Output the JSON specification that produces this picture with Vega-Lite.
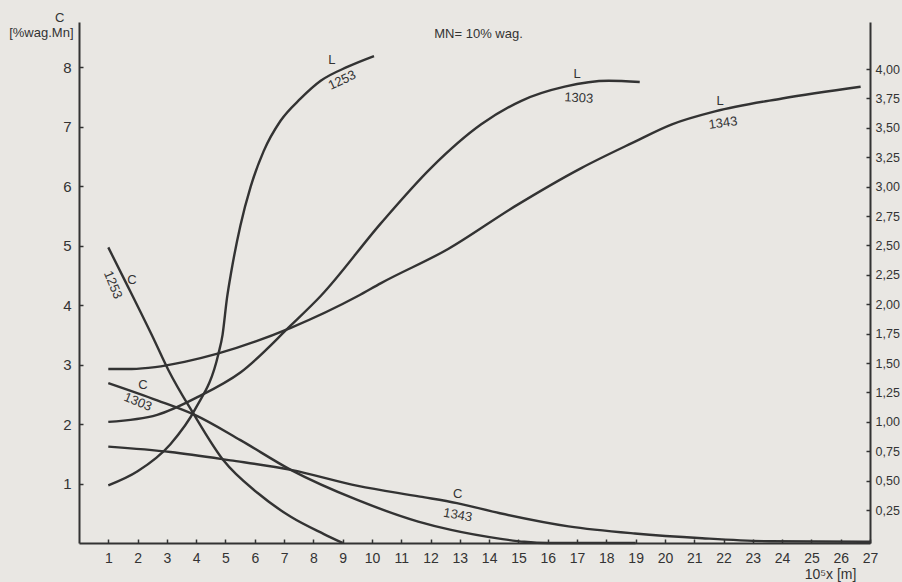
{
  "$schema": "https://vega.github.io/schema/vega-lite/v6.json",
  "width": 791,
  "height": 521,
  "autosize": {"type": "none"},
  "padding": {"left": 79, "top": 22, "right": 32, "bottom": 39},
  "background": "#e9e7e3",
  "config": {
    "view": {"stroke": null},
    "font": "Liberation Sans",
    "axis": {
      "domainColor": "#333333",
      "domainWidth": 2,
      "tickColor": "#333333",
      "tickWidth": 1.5,
      "labelColor": "#333333",
      "titleColor": "#333333",
      "titleFontWeight": "normal",
      "grid": false,
      "labelOverlap": false
    }
  },
  "title": {
    "text": "MN= 10% wag.",
    "anchor": "middle",
    "frame": "group",
    "offset": -40,
    "baseline": "alphabetic",
    "dx": 4,
    "fontSize": 13,
    "fontWeight": "normal",
    "color": "#333333"
  },
  "datasets": {
    "cdata": [
      {"s": "C1253", "x": 1, "c": 4.97}, {"s": "C1253", "x": 1.61, "c": 4.37}, {"s": "C1253", "x": 2.57, "c": 3.41},
      {"s": "C1253", "x": 3.05, "c": 2.91}, {"s": "C1253", "x": 3.9, "c": 2.18}, {"s": "C1253", "x": 4.93, "c": 1.39},
      {"s": "C1253", "x": 6.1, "c": 0.84}, {"s": "C1253", "x": 7.23, "c": 0.44}, {"s": "C1253", "x": 8.36, "c": 0.15},
      {"s": "C1253", "x": 9.0, "c": 0.0},
      {"s": "C1303", "x": 1, "c": 2.69}, {"s": "C1303", "x": 2.67, "c": 2.4}, {"s": "C1303", "x": 3.97, "c": 2.15},
      {"s": "C1303", "x": 5.51, "c": 1.73}, {"s": "C1303", "x": 7.23, "c": 1.23}, {"s": "C1303", "x": 9.52, "c": 0.72},
      {"s": "C1303", "x": 11.58, "c": 0.36}, {"s": "C1303", "x": 12.7, "c": 0.22}, {"s": "C1303", "x": 14.4, "c": 0.07},
      {"s": "C1303", "x": 15.2, "c": 0.02}, {"s": "C1303", "x": 16, "c": 0.0}, {"s": "C1303", "x": 17, "c": 0.0},
      {"s": "C1303", "x": 19, "c": 0.0},
      {"s": "C1343", "x": 1, "c": 1.62}, {"s": "C1343", "x": 3.12, "c": 1.53}, {"s": "C1343", "x": 5.17, "c": 1.39},
      {"s": "C1343", "x": 7.23, "c": 1.23}, {"s": "C1343", "x": 9.52, "c": 0.96}, {"s": "C1343", "x": 11.64, "c": 0.78},
      {"s": "C1343", "x": 12.9, "c": 0.67}, {"s": "C1343", "x": 14.37, "c": 0.5}, {"s": "C1343", "x": 16.71, "c": 0.28},
      {"s": "C1343", "x": 18.97, "c": 0.16}, {"s": "C1343", "x": 21.27, "c": 0.08}, {"s": "C1343", "x": 23.56, "c": 0.03},
      {"s": "C1343", "x": 27, "c": 0.02}
    ],
    "ldata": [
      {"s": "L1253", "x": 1, "l": 0.46}, {"s": "L1253", "x": 2, "l": 0.58}, {"s": "L1253", "x": 3.12, "l": 0.81},
      {"s": "L1253", "x": 3.97, "l": 1.11}, {"s": "L1253", "x": 4.76, "l": 1.58}, {"s": "L1253", "x": 4.9, "l": 1.74},
      {"s": "L1253", "x": 5.05, "l": 2.05}, {"s": "L1253", "x": 5.2, "l": 2.28}, {"s": "L1253", "x": 5.51, "l": 2.67},
      {"s": "L1253", "x": 5.86, "l": 3.0}, {"s": "L1253", "x": 6.3, "l": 3.3}, {"s": "L1253", "x": 6.88, "l": 3.56},
      {"s": "L1253", "x": 7.57, "l": 3.75}, {"s": "L1253", "x": 8.25, "l": 3.9}, {"s": "L1253", "x": 9.18, "l": 4.02},
      {"s": "L1253", "x": 10.07, "l": 4.11},
      {"s": "L1303", "x": 1, "l": 1.0}, {"s": "L1303", "x": 2.67, "l": 1.06}, {"s": "L1303", "x": 4.04, "l": 1.21},
      {"s": "L1303", "x": 5.51, "l": 1.42}, {"s": "L1303", "x": 7.23, "l": 1.82}, {"s": "L1303", "x": 8.25, "l": 2.07},
      {"s": "L1303", "x": 10.31, "l": 2.69}, {"s": "L1303", "x": 12.02, "l": 3.16}, {"s": "L1303", "x": 13.73, "l": 3.53},
      {"s": "L1303", "x": 15.1, "l": 3.73}, {"s": "L1303", "x": 16.58, "l": 3.85}, {"s": "L1303", "x": 18.08, "l": 3.9},
      {"s": "L1303", "x": 19.14, "l": 3.89},
      {"s": "L1343", "x": 1, "l": 1.45}, {"s": "L1343", "x": 1.8, "l": 1.45}, {"s": "L1343", "x": 2.6, "l": 1.465},
      {"s": "L1343", "x": 3.6, "l": 1.51}, {"s": "L1343", "x": 4.73, "l": 1.58},
      {"s": "L1343", "x": 7.23, "l": 1.8}, {"s": "L1343", "x": 9.52, "l": 2.07}, {"s": "L1343", "x": 10.31, "l": 2.18},
      {"s": "L1343", "x": 12.6, "l": 2.47}, {"s": "L1343", "x": 14.86, "l": 2.83}, {"s": "L1343", "x": 17.16, "l": 3.16},
      {"s": "L1343", "x": 18.87, "l": 3.37}, {"s": "L1343", "x": 20.24, "l": 3.53}, {"s": "L1343", "x": 21.71, "l": 3.64},
      {"s": "L1343", "x": 24.0, "l": 3.75}, {"s": "L1343", "x": 26.68, "l": 3.85}
    ],
    "letters": [
      {"t": "L", "x": 8.63, "c": 8.12}, {"t": "L", "x": 17.0, "c": 7.88}, {"t": "L", "x": 21.88, "c": 7.43},
      {"t": "C", "x": 1.81, "c": 4.42}, {"t": "C", "x": 2.18, "c": 2.66}, {"t": "C", "x": 12.93, "c": 0.82}
    ],
    "n1": [{"t": "1253", "x": 8.98, "c": 7.78}],
    "n2": [{"t": "1303", "x": 17.06, "c": 7.48}],
    "n3": [{"t": "1343", "x": 21.98, "c": 7.06}],
    "n4": [{"t": "1253", "x": 1.16, "c": 4.34}],
    "n5": [{"t": "1303", "x": 2.01, "c": 2.37}],
    "n6": [{"t": "1343", "x": 12.93, "c": 0.47}]
  },
  "encoding": {
    "x": {
      "field": "x", "type": "quantitative",
      "scale": {"domain": [0, 27], "nice": false, "zero": false},
      "axis": {
        "values": [1,2,3,4,5,6,7,8,9,10,11,12,13,14,15,16,17,18,19,20,21,22,23,24,25,26,27],
        "tickSize": -4, "labelPadding": 12, "labelFontSize": 14, "labelFlush": false, "labelOverlap": false,
        "labelBound": false,
        "title": "10⁵x [m]", "titleX": 751, "titleY": 35, "titleAlign": "center",
        "titleBaseline": "alphabetic", "titleFontSize": 14
      }
    }
  },
  "layer": [
    {
      "data": {"name": "cdata"},
      "mark": {"type": "line", "interpolate": "monotone", "color": "#333333", "strokeWidth": 2.4},
      "encoding": {
        "y": {
          "field": "c", "type": "quantitative",
          "scale": {"domain": [0, 8.76], "nice": false, "zero": false},
          "axis": {
            "orient": "left", "values": [1,2,3,4,5,6,7,8], "tickSize": -4, "labelPadding": 12,
            "labelFontSize": 15, "labelOverlap": false,
            "title": ["C\u2002\u2009\u200b", "[%wag.Mn]"], "titleAngle": 0, "titleAlign": "right",
            "titleX": -6, "titleY": -1, "titleBaseline": "alphabetic", "titleFontSize": 13,
            "titleLineHeight": 15
          }
        },
        "detail": {"field": "s"}
      }
    },
    {
      "data": {"name": "ldata"},
      "mark": {"type": "line", "interpolate": "monotone", "color": "#333333", "strokeWidth": 2.4},
      "encoding": {
        "y": {
          "field": "l", "type": "quantitative",
          "scale": {"domain": [-0.03, 4.4], "nice": false, "zero": false},
          "axis": {
            "orient": "right", "values": [0.25,0.5,0.75,1,1.25,1.5,1.75,2,2.25,2.5,2.75,3,3.25,3.5,3.75,4],
            "tickSize": -4, "labelPadding": 9, "labelFontSize": 12.5, "labelOverlap": false,
            "labelExpr": "replace(format(datum.value, '.2f'), '.', ',')",
            "title": null
          }
        },
        "detail": {"field": "s"}
      }
    },
    {
      "layer": [
        {
          "data": {"name": "letters"},
          "mark": {"type": "text", "fontSize": 13, "color": "#333333", "align": "center", "baseline": "middle"},
          "encoding": {
            "y": {"field": "c", "type": "quantitative", "scale": {"domain": [0, 8.76], "nice": false, "zero": false}, "axis": null},
            "text": {"field": "t"}
          }
        },
        {
          "data": {"name": "n1"},
          "mark": {"type": "text", "fontSize": 13, "color": "#333333", "align": "center", "baseline": "middle", "angle": 335},
          "encoding": {"y": {"field": "c", "type": "quantitative", "axis": null}, "text": {"field": "t"}}
        },
        {
          "data": {"name": "n2"},
          "mark": {"type": "text", "fontSize": 13, "color": "#333333", "align": "center", "baseline": "middle", "angle": 3},
          "encoding": {"y": {"field": "c", "type": "quantitative", "axis": null}, "text": {"field": "t"}}
        },
        {
          "data": {"name": "n3"},
          "mark": {"type": "text", "fontSize": 13, "color": "#333333", "align": "center", "baseline": "middle", "angle": 352},
          "encoding": {"y": {"field": "c", "type": "quantitative", "axis": null}, "text": {"field": "t"}}
        },
        {
          "data": {"name": "n4"},
          "mark": {"type": "text", "fontSize": 13, "color": "#333333", "align": "center", "baseline": "middle", "angle": 68},
          "encoding": {"y": {"field": "c", "type": "quantitative", "axis": null}, "text": {"field": "t"}}
        },
        {
          "data": {"name": "n5"},
          "mark": {"type": "text", "fontSize": 13, "color": "#333333", "align": "center", "baseline": "middle", "angle": 22},
          "encoding": {"y": {"field": "c", "type": "quantitative", "axis": null}, "text": {"field": "t"}}
        },
        {
          "data": {"name": "n6"},
          "mark": {"type": "text", "fontSize": 13, "color": "#333333", "align": "center", "baseline": "middle", "angle": 10},
          "encoding": {"y": {"field": "c", "type": "quantitative", "axis": null}, "text": {"field": "t"}}
        }
      ]
    }
  ],
  "resolve": {"scale": {"y": "independent"}}
}
